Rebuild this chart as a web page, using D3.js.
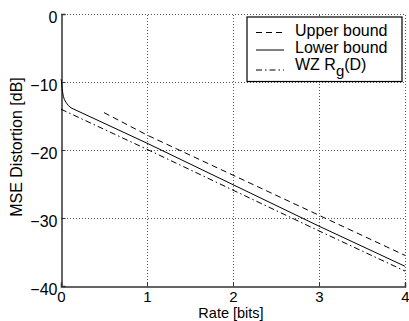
<!DOCTYPE html>
<html lang="en">
<head>
<meta charset="utf-8">
<title>MSE Distortion vs Rate</title>
<style>
  * { margin: 0; padding: 0; }
  body { background: #fff; overflow: hidden; }
  svg { display: block; font-family: "Liberation Sans", Arial, sans-serif; }
  .grid line { stroke: #555; stroke-width: 1; stroke-dasharray: 1,2; }
  .tick-label { font-size: 16px; fill: #000; }
  .axis-title { font-size: 14.5px; fill: #000; }
  .legend-text { font-size: 16px; fill: #000; }
</style>
</head>
<body>
<svg id="chart" width="409" height="321"></svg>
<script src="https://d3js.org/d3.v7.min.js"></script>
<script>
// values (rate in bits, distortion in dB)
const upperRate = [0.5, 1, 2, 3, 4];
const upperDb = [-14.5, -17.8, -23.7, -29.6, -35.5];

const lowerRate = [0, 0.006, 0.012, 0.02, 0.027, 0.04, 0.058, 0.085, 0.116, 1, 2, 3, 4];
const lowerDb = [-9.6, -9.9, -10.9, -11.6, -12.1, -12.6, -13.0, -13.45, -13.8, -19.0, -25.1, -31.2, -37.1];

const wzRate = [0, 1, 2, 3, 4];
const wzDb = [-14.0, -19.9, -25.9, -31.9, -37.8];

const xTicks = [0, 1, 2, 3, 4];
const yTicks = [0, -10, -20, -30, -40];

const series = [
  { name: "Upper bound", rate: upperRate, db: upperDb, dash: "6,4" },
  { name: "Lower bound", rate: lowerRate, db: lowerDb, dash: null },
  { name: "WZ", rate: wzRate, db: wzDb, dash: "6,3,1.5,3" }
];

const margin = { left: 61, right: 4, top: 14, bottom: 35 };
const W = 409, H = 321;
const svg = d3.select("#chart");

const x = d3.scaleLinear().domain([0, 4]).range([margin.left, W - margin.right]);
const y = d3.scaleLinear().domain([-40, 0]).range([H - margin.bottom, margin.top]);

// grid
const grid = svg.append("g").attr("class", "grid");
grid.selectAll(".gx").data(xTicks.slice(1)).join("line")
  .attr("x1", d => Math.round(x(d)) + 0.5).attr("x2", d => Math.round(x(d)) + 0.5)
  .attr("y1", y(-40)).attr("y2", y(0));
grid.selectAll(".gy").data(yTicks.slice(0, -1)).join("line")
  .attr("y1", d => Math.round(y(d)) + 0.5).attr("y2", d => Math.round(y(d)) + 0.5)
  .attr("x1", x(0)).attr("x2", x(4));

// axes (inward ticks like matlab)
const xAxis = d3.axisBottom(x).tickValues(xTicks).tickSize(-4).tickPadding(5)
  .tickFormat(d3.format("d"));
const yAxis = d3.axisLeft(y).tickValues(yTicks).tickSize(-4).tickPadding(4)
  .tickFormat(d => d3.format("d")(d).replace("-", "\u2212"));

const gx = svg.append("g").attr("transform", `translate(0,${Math.round(y(-40)) + 0.5})`).call(xAxis);
const gy = svg.append("g").attr("transform", `translate(${Math.round(x(0)) + 0.5},0)`).call(yAxis);
[gx, gy].forEach(g => {
  g.attr("font-family", null).attr("font-size", null);
  g.select(".domain").attr("stroke", "#333").attr("stroke-width", 1.5);
  g.selectAll(".tick line").attr("stroke", "#333");
  g.selectAll(".tick text").attr("class", "tick-label");
});
gy.selectAll(".tick text").attr("dy", "0.5em");
gx.selectAll(".tick text").attr("dy", "0.71em").style("font-size", "15px");

// lines
const line = d3.line().x(d => x(d[0])).y(d => y(d[1]));
svg.append("g").selectAll("path").data(series).join("path")
  .attr("d", s => line(s.rate.map((r, i) => [r, s.db[i]])))
  .attr("fill", "none")
  .attr("stroke", "#000")
  .attr("stroke-width", 1)
  .attr("stroke-dasharray", s => s.dash);

// axis titles
svg.append("text").attr("class", "axis-title")
  .attr("x", (x(0) + x(4)) / 2 - 2).attr("y", H - 3.5)
  .attr("text-anchor", "middle").text("Rate [bits]");
svg.append("text").attr("class", "axis-title").style("font-size", "16px")
  .attr("transform", `translate(22,147) rotate(-90)`)
  .attr("text-anchor", "middle").text("MSE Distortion [dB]");

// legend
const lg = svg.append("g").attr("transform", "translate(247,17)");
lg.append("rect").attr("x", 0).attr("y", 0).attr("width", 155).attr("height", 64.5)
  .attr("fill", "#fff").attr("stroke", "#000").attr("stroke-width", 1.2);
const lineY = [15.5, 33, 53];
const textY = [18.5, 36, 52.5];
series.forEach((s, i) => {
  lg.append("line").attr("x1", 9).attr("x2", 37)
    .attr("y1", lineY[i]).attr("y2", lineY[i])
    .attr("stroke", "#000").attr("stroke-dasharray", s.dash);
});
lg.append("text").attr("class", "legend-text").attr("x", 48).attr("y", textY[0]).text("Upper bound");
lg.append("text").attr("class", "legend-text").attr("x", 48).attr("y", textY[1]).text("Lower bound");
const wz = lg.append("text").attr("class", "legend-text").attr("x", 48).attr("y", textY[2]);
wz.append("tspan").text("WZ R");
wz.append("tspan").attr("dy", 6).attr("font-size", "15px").text("g");
wz.append("tspan").attr("dy", -6).text("(D)");
</script>
</body>
</html>
